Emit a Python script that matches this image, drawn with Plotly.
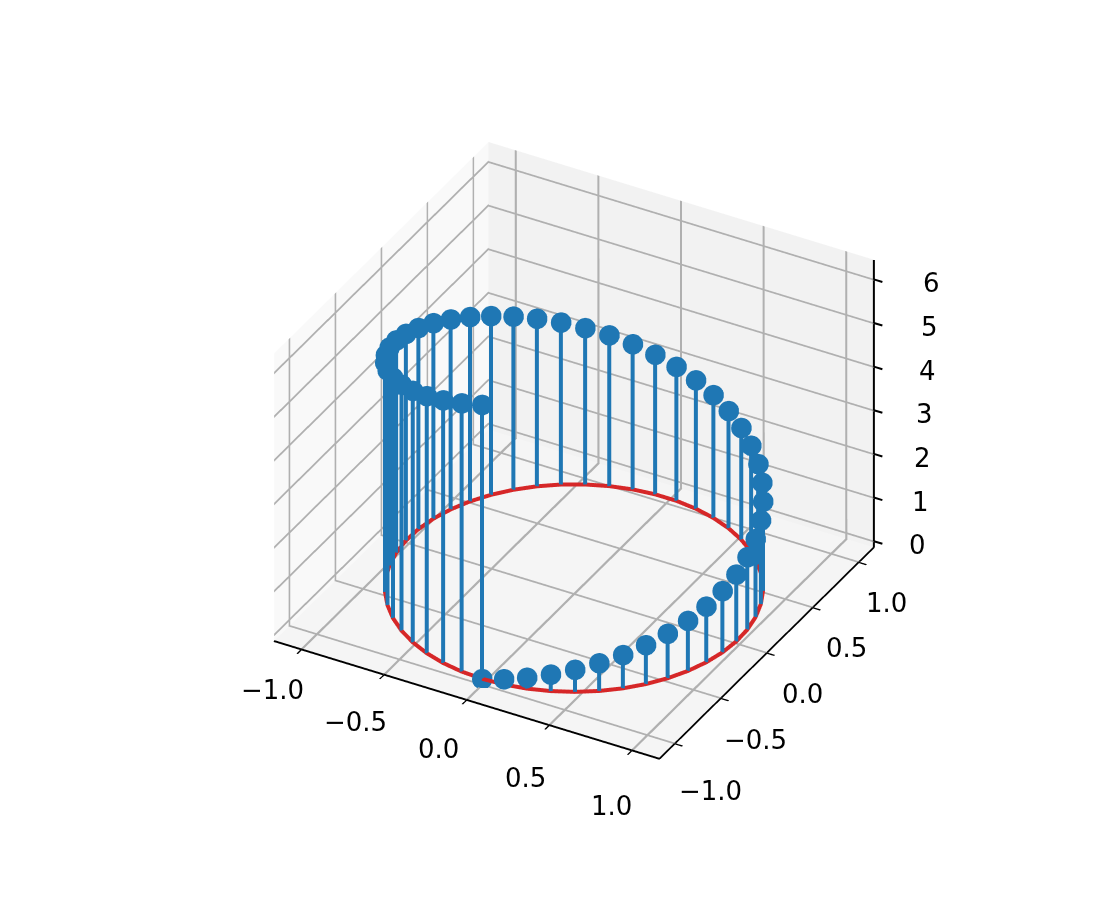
import plotly.graph_objects as go

x_values = [0.0, 0.1279, 0.2537, 0.3752, 0.4907, 0.5981, 0.6959, 0.7818, 0.8551, 0.9144,
            0.9587, 0.9872, 0.9995, 0.9954, 0.9749, 0.9385, 0.8866, 0.8204, 0.7409, 0.6482,
            0.5455, 0.4339, 0.3151, 0.1911, 0.0641, -0.0641, -0.1911, -0.3151, -0.4339, -0.5455,
            -0.6482, -0.7409, -0.8204, -0.8866, -0.9385, -0.9749, -0.9954, -0.9995, -0.9872, -0.9587,
            -0.9144, -0.8551, -0.7818, -0.6959, -0.5981, -0.4907, -0.3752, -0.2537, -0.1279, 0.0]
y_values = [-1.0, -0.9918, -0.9673, -0.9269, -0.8713, -0.8014, -0.7181, -0.6235, -0.5184, -0.4048,
            -0.2845, -0.1596, -0.032, 0.096, 0.2225, 0.3454, 0.4625, 0.5718, 0.6717, 0.7615,
            0.8381, 0.901, 0.9491, 0.9816, 0.9979, 0.9979, 0.9816, 0.9491, 0.901, 0.8381,
            0.7615, 0.6717, 0.5718, 0.4625, 0.3454, 0.2225, 0.096, -0.032, -0.1596, -0.2845,
            -0.4048, -0.5184, -0.6235, -0.7181, -0.8014, -0.8713, -0.9269, -0.9673, -0.9918, -1.0]
z_values = [0.0, 0.128, 0.256, 0.385, 0.513, 0.641, 0.769, 0.898, 1.026, 1.154,
            1.282, 1.411, 1.539, 1.667, 1.795, 1.923, 2.052, 2.18, 2.308, 2.436,
            2.565, 2.693, 2.821, 2.949, 3.077, 3.206, 3.334, 3.462, 3.59, 3.719,
            3.847, 3.975, 4.103, 4.232, 4.36, 4.488, 4.616, 4.744, 4.873, 5.001,
            5.129, 5.257, 5.386, 5.514, 5.642, 5.77, 5.898, 6.027, 6.155, 6.283]
baseline_level = 0.0
xy_ticks = [-1.0, -0.5, 0.0, 0.5, 1.0]
xy_tick_labels = ["\u22121.0", "\u22120.5", "0.0", "0.5", "1.0"]
z_ticks = [0, 1, 2, 3, 4, 5, 6]
xy_range = [-1.166, 1.166]
z_range = [-0.14, 6.45]

stem_x, stem_y, stem_z = [], [], []
for a, b, c in zip(x_values, y_values, z_values):
    stem_x += [a, a, None]
    stem_y += [b, b, None]
    stem_z += [baseline_level, c, None]

fig = go.Figure()
fig.add_trace(go.Scatter3d(x=x_values, y=y_values, z=[baseline_level] * len(x_values),
                           mode="lines", line=dict(color="#d62728", width=8), showlegend=False))
fig.add_trace(go.Scatter3d(x=stem_x, y=stem_y, z=stem_z, mode="lines",
                           line=dict(color="#1f77b4", width=8), showlegend=False))
fig.add_trace(go.Scatter3d(x=x_values, y=y_values, z=z_values, mode="markers",
                           marker=dict(color="#1f77b4", size=12, line=dict(width=0)), showlegend=False))
# z axis line on the right-hand edge, as in the reference
fig.add_trace(go.Scatter3d(x=[xy_range[1], xy_range[1]], y=[xy_range[1], xy_range[1]], z=z_range,
                           mode="lines", line=dict(color="black", width=4), showlegend=False))

def axis(bg, vals, text, rng, line=True):
    return dict(range=rng, tickmode="array", tickvals=vals, ticktext=text,
                showbackground=True, backgroundcolor=bg, gridcolor="#b0b0b0", gridwidth=5,
                showline=line, linecolor="black", linewidth=4,
                ticks="outside" if line else "", ticklen=9, tickcolor="black", tickwidth=3,
                showticklabels=False, zeroline=False, title=dict(text=""), showspikes=False)

label_font = dict(family="DejaVu Sans", size=26, color="black")
x_label_shift = [(-29, -47), (-29, -53), (-28, -55), (-24, -59), (-20, -62)]
y_label_shift = [(36, -53), (35, -48), (36, -47), (34, -46), (28, -47)]
annotations = []
for v, t, xs, ys in zip(xy_ticks, xy_tick_labels, x_label_shift, y_label_shift):
    annotations.append(dict(x=v, y=xy_range[0], z=0, text=t, showarrow=False,
                            xshift=xs[0], yshift=xs[1], font=label_font))
    annotations.append(dict(x=xy_range[1], y=v, z=0, text=t, showarrow=False,
                            xshift=ys[0], yshift=ys[1], font=label_font))
for v in z_ticks:
    annotations.append(dict(x=xy_range[1], y=xy_range[1], z=v, text=str(v), showarrow=False,
                            xshift=44 + 2.3 * v, yshift=-4, font=label_font))
    annotations.append(dict(x=xy_range[1], y=xy_range[1], z=v, text=" ", showarrow=True,
                            arrowhead=0, arrowwidth=2, arrowcolor="black", ax=10, ay=3, standoff=0,
                            font=dict(size=1)))

fig.update_layout(
    width=1100, height=900, margin=dict(l=0, r=0, t=0, b=0), paper_bgcolor="white", showlegend=False,
    scene=dict(
        domain=dict(x=[0.029, 1.0], y=[0.0, 0.98]),
        xaxis=axis("#f9f9f9", xy_ticks, xy_tick_labels, xy_range),
        yaxis=axis("#f2f2f2", xy_ticks, xy_tick_labels, xy_range),
        zaxis=axis("#f5f5f5", z_ticks, [str(v) for v in z_ticks], z_range, line=False),
        aspectmode="manual", aspectratio=dict(x=1, y=1, z=0.78),
        camera=dict(eye=dict(x=0.694, y=-1.247, z=0.892), center=dict(x=0, y=0, z=-0.045),
                    projection=dict(type="orthographic")),
        annotations=annotations,
    ),
)
fig.write_html("out.html")
